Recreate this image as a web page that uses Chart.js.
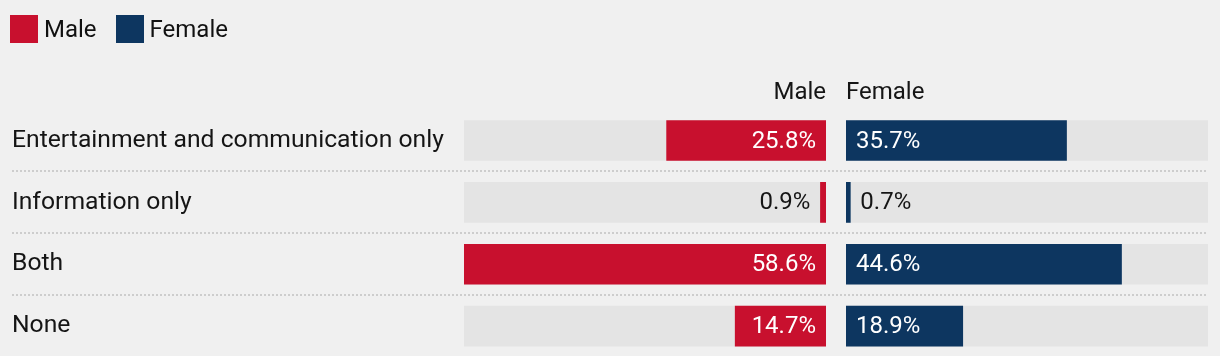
<!DOCTYPE html>
<html>
<head>
<meta charset="utf-8">
<script src="https://cdn.jsdelivr.net/npm/chart.js@4/dist/chart.umd.min.js"></script>
<style>
  html, body { margin:0; padding:0; background:#f0f0f0; width:1220px; height:356px; overflow:hidden; font-family: Roboto, sans-serif; }
  #legend { position:absolute; left:10px; top:15px; display:flex; align-items:center; font-size:24px; color:#111; z-index:2; }
  #legend .item { display:flex; align-items:center; margin-right:19px; }
  #legend .sw { width:28px; height:28px; display:inline-block; margin-right:6px; }
  #wa { position:absolute; left:0; top:0; width:836px; height:360px; }
  #wb { position:absolute; left:836px; top:0; width:384px; height:360px; }
</style>
</head>
<body>
<div id="wa"><canvas id="ca"></canvas></div>
<div id="wb"><canvas id="cb"></canvas></div>
<div id="legend"></div>
<script>
const categories = ['Entertainment and communication only', 'Information only', 'Both', 'None'];
const seriesNames = ['Male', 'Female'];
const maleValues = [25.8, 0.9, 58.6, 14.7];
const femaleValues = [35.7, 0.7, 44.6, 18.9];
const seriesColors = ['#c8102e', '#0d3660'];

const FONT = 'Roboto';
const TEXT = '#151515';
const TRACK = '#e4e4e4';
const scaleMax = Math.max(...maleValues, ...femaleValues);
const trackValues = categories.map(() => scaleMax);

// legend (html)
const legendEl = document.getElementById('legend');
seriesNames.forEach((n, i) => {
  const it = document.createElement('div'); it.className = 'item';
  const sw = document.createElement('span'); sw.className = 'sw'; sw.style.background = seriesColors[i];
  const tx = document.createElement('span'); tx.textContent = n;
  it.appendChild(sw); it.appendChild(tx); legendEl.appendChild(it);
});

const sepPlugin = {
  id: 'sep',
  beforeDatasetsDraw(chart, args, opts) {
    const y = chart.scales.y, ctx = chart.ctx;
    ctx.save();
    ctx.strokeStyle = '#cdcdcd'; ctx.lineWidth = 2; ctx.setLineDash([2, 2]);
    for (let i = 0; i < categories.length - 1; i++) {
      const py = Math.round((y.getPixelForValue(i) + y.getPixelForValue(i + 1)) / 2);
      ctx.beginPath(); ctx.moveTo(opts.x0, py); ctx.lineTo(chart.width - opts.rightPad, py); ctx.stroke();
    }
    ctx.restore();
  }
};

const labelPlugin = {
  id: 'vlabels',
  afterDatasetsDraw(chart, args, opts) {
    const ctx = chart.ctx;
    const meta = chart.getDatasetMeta(0);
    const data = chart.data.datasets[0].data;
    const pad = 10;
    ctx.save();
    ctx.font = '24px ' + FONT;
    ctx.textBaseline = 'middle';
    meta.data.forEach((el, i) => {
      const txt = data[i].toFixed(1) + '%';
      const tw = ctx.measureText(txt).width;
      const len = Math.abs(el.x - el.base);
      const inside = len > tw + 2 * pad;
      ctx.fillStyle = inside ? '#ffffff' : TEXT;
      if (opts.side === 'left') {
        ctx.textAlign = 'right';
        ctx.fillText(txt, inside ? el.base - pad : el.x - pad, el.y + 1);
      } else {
        ctx.textAlign = 'left';
        ctx.fillText(txt, inside ? el.base + pad : el.x + pad, el.y + 1);
      }
    });
    ctx.restore();
  }
};

function makeChart(id, values, color, name, isLeft) {
  return new Chart(document.getElementById(id), {
    type: 'bar',
    data: {
      labels: categories,
      datasets: [
        { label: name, data: values, backgroundColor: color, order: 0, xAxisID: 'x' },
        { label: 'track', data: trackValues, backgroundColor: TRACK, order: 1, xAxisID: 'x' }
      ]
    },
    plugins: [sepPlugin, labelPlugin],
    options: {
      indexAxis: 'y',
      responsive: true,
      maintainAspectRatio: false,
      animation: false,
      events: [],
      layout: { padding: isLeft ? { top: 76.8, bottom: 3, left: 12, right: 10 } : { top: 76.8, bottom: 3, left: 10, right: 12 } },
      datasets: { bar: { grouped: false, barThickness: 40, borderWidth: 0 } },
      scales: {
        x: {
          type: 'linear', min: 0, max: scaleMax, reverse: isLeft, display: false
        },
        xt: {
          type: 'linear', min: 0, max: 1, position: 'top', axis: 'x',
          ticks: { display: false },
          grid: { display: false, drawTicks: false, tickLength: 0 },
          border: { display: false },
          title: { display: true, text: name, align: isLeft ? 'end' : 'start', color: TEXT,
                   font: { family: FONT, size: 24 }, padding: { top: 2, bottom: 2 } }
        },
        y: {
          type: 'category', offset: true, display: isLeft,
          grid: { display: false, drawTicks: false },
          border: { display: false },
          ticks: { crossAlign: 'far', color: TEXT, font: { family: FONT, size: 24.7 }, padding: 0 },
          afterFit(scale) { if (isLeft) scale.width = 452; scale.paddingTop = 0; scale.paddingBottom = 0; }
        }
      },
      plugins: {
        legend: { display: false },
        tooltip: { enabled: false },
        sep: { x0: isLeft ? 12 : 0, rightPad: isLeft ? 0 : 12 },
        vlabels: { side: isLeft ? 'left' : 'right' }
      }
    }
  });
}

makeChart('ca', maleValues, seriesColors[0], seriesNames[0], true);
makeChart('cb', femaleValues, seriesColors[1], seriesNames[1], false);
</script>
</body>
</html>
